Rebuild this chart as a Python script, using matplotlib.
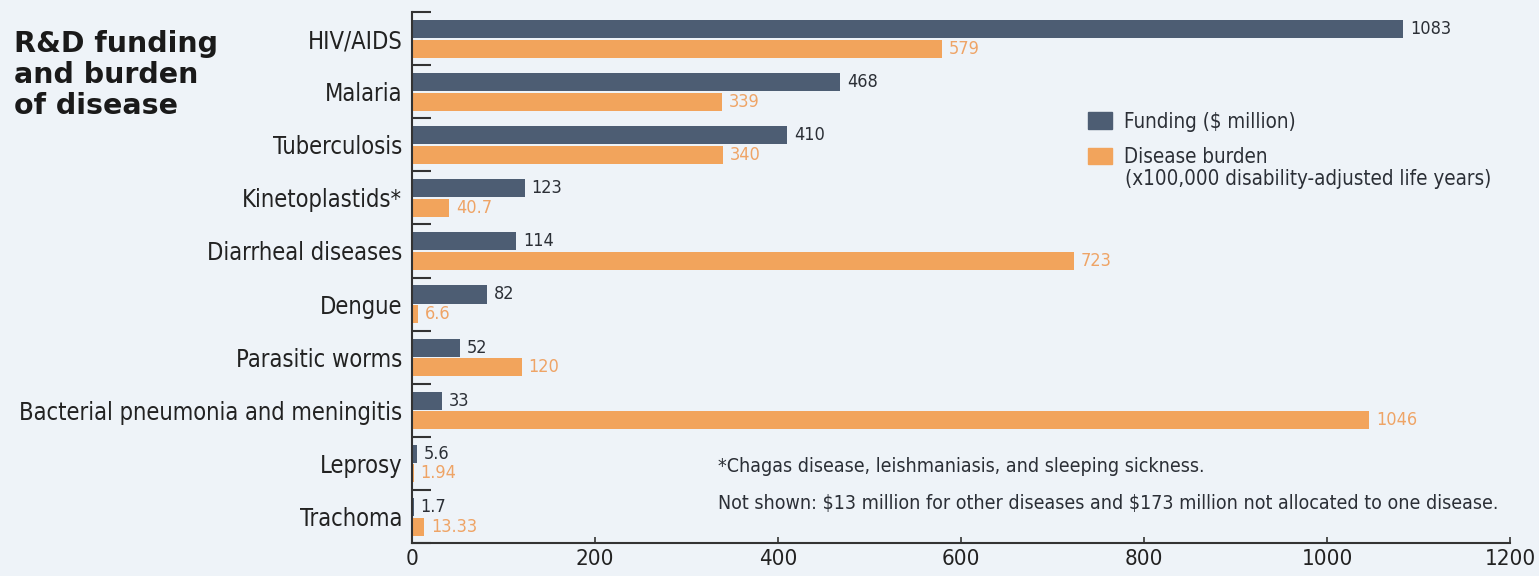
import numpy as np
import matplotlib
matplotlib.use('Agg')
import matplotlib.pyplot as plt
from matplotlib.patches import Patch

plt.rcParams['font.family'] = ['DejaVu Sans']
plt.rcParams['font.stretch'] = 'condensed'

diseases = ['HIV/AIDS', 'Malaria', 'Tuberculosis', 'Kinetoplastids*', 'Diarrheal diseases',
            'Dengue', 'Parasitic worms', 'Bacterial pneumonia and meningitis', 'Leprosy', 'Trachoma']
funding = [1083, 468, 410, 123, 114, 82, 52, 33, 5.6, 1.7]
funding_labels = ['1083', '468', '410', '123', '114', '82', '52', '33', '5.6', '1.7']
burden = [579, 339, 340, 40.7, 723, 6.6, 120, 1046, 1.94, 13.33]
burden_labels = ['579', '339', '340', '40.7', '723', '6.6', '120', '1046', '1.94', '13.33']
x_ticks = [0, 200, 400, 600, 800, 1000, 1200]

bg = '#eef3f8'
dark = '#4d5d73'
orange = '#f2a45c'
text_col = '#2b2f36'

fig = plt.figure(figsize=(15.39, 5.76), dpi=100, facecolor=bg)
ax = fig.add_axes([412/1539, 1 - 543/576, 1098/1539, 531/576])
ax.set_facecolor(bg)

y = np.arange(len(diseases))
h = 0.34
ax.barh(y - 0.18, funding, height=h, color=dark)
ax.barh(y + 0.19, burden, height=h, color=orange)

for yi, v, s in zip(y, funding, funding_labels):
    ax.annotate(s, (v, yi - 0.18), xytext=(5, 0), textcoords='offset points',
                va='center', ha='left', fontsize=13, color=text_col)
for yi, v, s in zip(y, burden, burden_labels):
    ax.annotate(s, (v, yi + 0.19), xytext=(5, 0), textcoords='offset points',
                va='center', ha='left', fontsize=13, color='#eea466')

ax.set_xlim(0, 1200)
ax.set_ylim(len(diseases) - 0.5, -0.5)
ax.set_xticks(x_ticks)
ax.set_xticklabels([str(t) for t in x_ticks], fontsize=16, color='#222222')
ax.set_yticks(y)
ax.set_yticklabels(diseases, fontsize=17, color='#222222')
ax.set_yticks(np.arange(len(diseases) + 1) - 0.5, minor=True)
ax.tick_params(axis='y', which='major', length=0, pad=7)
ax.tick_params(axis='y', which='minor', direction='in', length=14, width=1.5, color='#333333')
ax.tick_params(axis='x', direction='in', length=4, width=1.2, color='#333333', pad=4)

for side in ['top', 'right']:
    ax.spines[side].set_visible(False)
for side in ['left', 'bottom']:
    ax.spines[side].set_color('#333333')
    ax.spines[side].set_linewidth(1.5)

fig.text(14/1539, 1 - 30/576, 'R&D funding\nand burden\nof disease', ha='left', va='top',
         fontsize=20.5, fontweight='bold', family='DejaVu Sans', stretch='normal',
         color='#1a1a1a', linespacing=1.13)

handles = [Patch(color=dark), Patch(color=orange)]
fig.legend(handles, ['Funding (\\$ million)', 'Disease burden'],
           loc='upper left', bbox_to_anchor=(1069/1539, 1 - 93/576), frameon=False,
           fontsize=14.8, handlelength=1.2, handleheight=0.85, handletextpad=0.6,
           labelspacing=0.75, labelcolor=text_col)
fig.text(1125/1539, 1 - 179/576, '(x100,000 disability-adjusted life years)',
         ha='left', va='center', fontsize=14.8, color=text_col)

fig.text(718/1539, 1 - 467/576, '*Chagas disease, leishmaniasis, and sleeping sickness.',
         ha='left', va='center', fontsize=14, color=text_col)
fig.text(718/1539, 1 - 503/576,
         'Not shown: \\$13 million for other diseases and \\$173 million not allocated to one disease.',
         ha='left', va='center', fontsize=14, color=text_col)

fig.savefig('out.png', dpi=100, facecolor=bg)
